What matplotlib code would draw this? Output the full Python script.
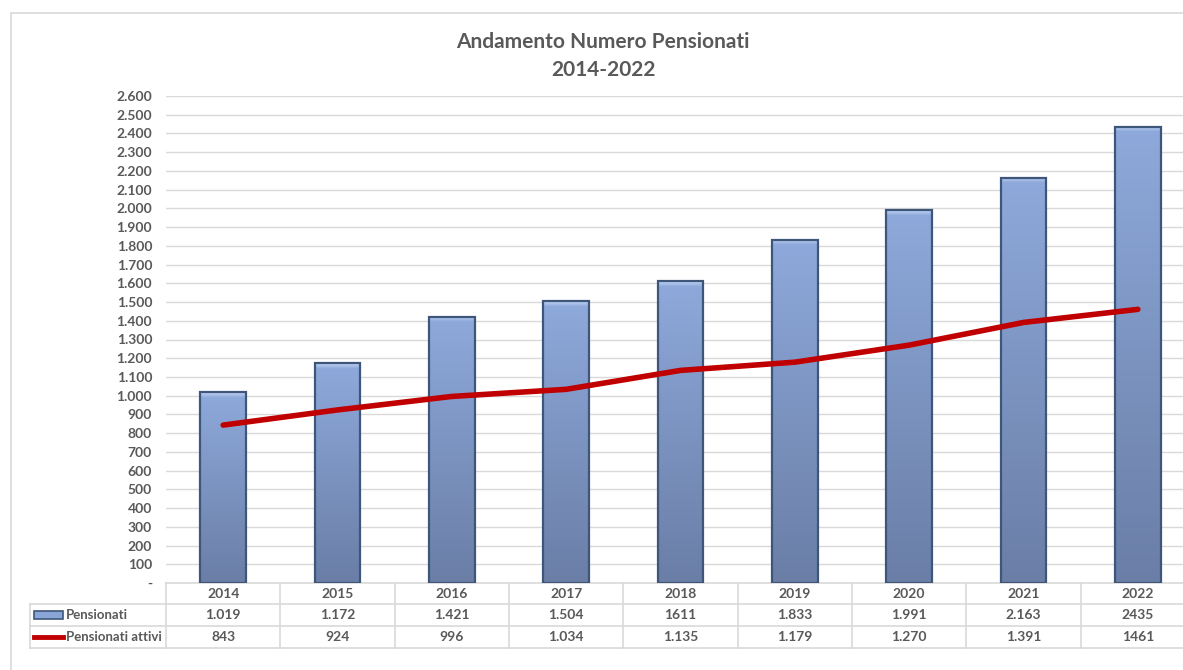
import matplotlib.pyplot as plt
import matplotlib.transforms as mtransforms
from matplotlib.patches import Rectangle
from matplotlib.lines import Line2D
import numpy as np

plt.rcParams['font.family'] = ['Lato', 'DejaVu Sans']
plt.rcParams['font.weight'] = 'bold'

years = ['2014', '2015', '2016', '2017', '2018', '2019', '2020', '2021', '2022']
pensionati = [1019, 1172, 1421, 1504, 1611, 1833, 1991, 2163, 2435]
attivi = [843, 924, 996, 1034, 1135, 1179, 1270, 1391, 1461]
pens_labels = ['1.019', '1.172', '1.421', '1.504', '1611', '1.833', '1.991', '2.163', '2435']
attivi_labels = ['843', '924', '996', '1.034', '1.135', '1.179', '1.270', '1.391', '1461']
series_names = ['Pensionati', 'Pensionati attivi']

W, H = 1183, 670
txt = '#595959'
grid_c = '#D9D9D9'

fig = plt.figure(figsize=(W / 100, H / 100), dpi=100)

# chart border
fig.patches.append(Rectangle((11 / W, -0.1), 1.2, 1 - 13 / H + 0.1, transform=fig.transFigure,
                             fill=False, edgecolor='#D9D9D9', linewidth=1.2))

ax = fig.add_axes([166 / W, 87 / H, 1029 / W, 487 / H])
x = np.arange(len(years))

ax.set_yticks(np.arange(0, 2601, 100))
ax.set_yticklabels(['-'] + [f'{v:,}'.replace(',', '.') for v in range(100, 2601, 100)])
ax.tick_params(axis='y', length=0, pad=10, labelsize=10, labelcolor=txt)
ax.set_xticks([])
for s in ax.spines.values():
    s.set_visible(False)
ax.yaxis.grid(True, color=grid_c, linewidth=1)
ax.set_axisbelow(True)

px_per_unit = 487 / 2600


def bar_gradient(h_px):
    n = max(int(h_px), 10)
    top = np.array([142, 169, 219]) / 255
    bot = np.array([106, 126, 166]) / 255
    t = np.linspace(0, 1, n)[:, None]
    arr = top * (1 - t) + bot * t
    bev = 6
    hl = np.linspace(0, 1, bev)[:, None]
    arr[:bev] = np.array([190, 210, 242]) / 255 * (1 - hl) + top * hl
    return arr[:, None, :]


bars = ax.bar(x, pensionati, width=0.4, facecolor='none', edgecolor='#3E5679', linewidth=1.6, zorder=3)
for b, v in zip(bars, pensionati):
    x0, w = b.get_x(), b.get_width()
    ax.imshow(bar_gradient(v * px_per_unit), extent=[x0, x0 + w, 0, v], aspect='auto',
              interpolation='bilinear', zorder=2)
ax.set_xlim(-0.5, len(years) - 0.5)
ax.set_ylim(0, 2600)

ax.plot(x, attivi, color='#C00000', linewidth=4, solid_joinstyle='round', solid_capstyle='round', zorder=4)

# data table below the plot
tr = mtransforms.blended_transform_factory(ax.transData, ax.transAxes)
rows = [0, -21 / 487, -43 / 487, -65 / 487]
unit = 1029 / 9
xl = -0.5 - 136 / unit
for i, yy in enumerate(rows):
    xs = -0.5 if i == 0 else xl
    ax.add_line(Line2D([xs, 9], [yy, yy], transform=tr, color=grid_c, linewidth=1.2, clip_on=False))
ax.add_line(Line2D([xl, xl], [rows[1], rows[3]], transform=tr, color=grid_c, linewidth=1.2, clip_on=False))
for k in range(len(years)):
    ax.add_line(Line2D([k - 0.5, k - 0.5], [rows[0], rows[3]], transform=tr, color=grid_c,
                       linewidth=1.2, clip_on=False))

for k in range(len(years)):
    for r, lab in enumerate([years[k], pens_labels[k], attivi_labels[k]]):
        ax.text(k, (rows[r] + rows[r + 1]) / 2, lab, transform=tr, ha='center', va='center',
                fontsize=10, color=txt, clip_on=False)

# legend keys in table
kx0 = xl + 4 / unit
kx1 = xl + 33 / unit
ym1 = (rows[1] + rows[2]) / 2
ym2 = (rows[2] + rows[3]) / 2
key_h = 8 / 487
ax.add_patch(Rectangle((kx0, ym1 - key_h / 2), kx1 - kx0, key_h, transform=tr, facecolor='#8AA6D8',
                       edgecolor='#3E5679', linewidth=1.2, clip_on=False))
ax.add_line(Line2D([kx0, kx1], [ym2, ym2], transform=tr, color='#C00000', linewidth=3.5, clip_on=False))
for yy, name in zip([ym1, ym2], series_names):
    ax.text(kx1 + 3 / unit, yy, name, transform=tr, ha='left', va='center', fontsize=9.5,
            color=txt, clip_on=False)

fig.text(603 / W, 1 - 42 / H, 'Andamento Numero Pensionati', ha='center', va='center', fontsize=15,
         color=txt)
fig.text(603 / W, 1 - 70 / H, '2014-2022', ha='center', va='center', fontsize=15, color=txt)

fig.savefig('out.png', dpi=100)
